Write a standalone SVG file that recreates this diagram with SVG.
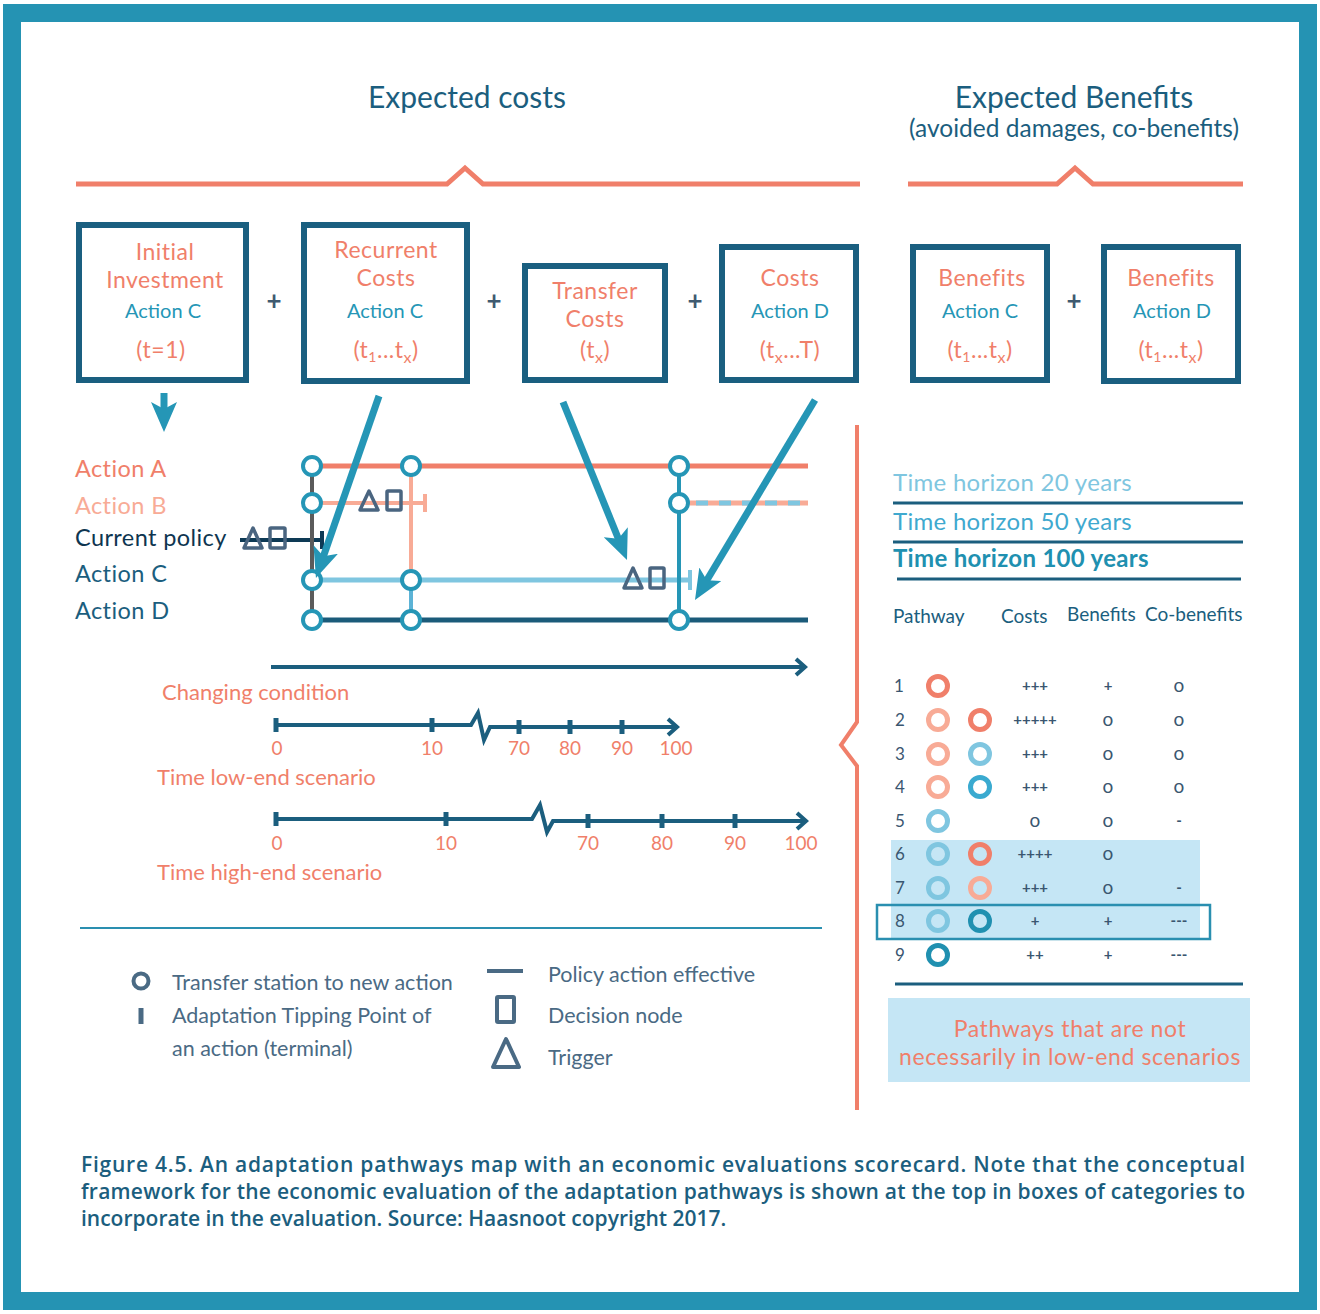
<svg xmlns="http://www.w3.org/2000/svg" width="1320" height="1314" viewBox="0 0 1320 1314">
<defs>
<style>
text{font-family:Lato,"Open Sans","Liberation Sans",sans-serif}
.ttl{font-size:30px;fill:#1b5e7e;text-anchor:middle}
.box{fill:#fff;stroke:#1a5f80;stroke-width:6}
.bt{font-size:23px;fill:#f07f6a;text-anchor:middle;letter-spacing:0.5px}
.ba{font-size:20px;fill:#2596b6;text-anchor:middle}
.plus{font-size:26px;font-weight:bold;fill:#3f5a70;text-anchor:middle}
.lbl{font-size:23.5px;letter-spacing:0.4px}
.st{fill:#fff;stroke:#2596b6;stroke-width:4}
.mk{fill:none;stroke:#4a6580;stroke-width:3.5;stroke-linejoin:round}
.big{stroke:#2596b6;stroke-width:7;fill:none}
.ax{stroke:#1b5e7e;stroke-width:4;fill:none}
.tk{stroke:#1b5e7e;stroke-width:5}
.num{font-size:19px;fill:#f07f6a;text-anchor:middle}
.sal{font-size:22px;fill:#f07f6a}
.leg{font-size:21.5px;fill:#4a6a84}
.th{font-size:24px;letter-spacing:0.3px}
.hd{font-size:19px;fill:#1b5e7e}
.rn{font-size:17px;fill:#3a5670}
.cell{font-size:15px;fill:#3a5670;text-anchor:middle;font-weight:bold}
.cell .oo{font-size:19px;font-weight:normal}
.ring{fill:none;stroke-width:5}
.note{font-size:23px;fill:#f07f6a;text-anchor:middle;letter-spacing:0.6px}
.cap{font-family:"Open Sans",Lato,sans-serif;font-size:21px;font-weight:600;fill:#1b5e7e}
</style>
<marker id="ah" viewBox="0 0 30 26" refX="10" refY="13" markerWidth="30" markerHeight="26" markerUnits="userSpaceOnUse" orient="auto">
<path d="M0,0 L30,13 L0,26 L7,13 z" fill="#2596b6"/>
</marker>
</defs>
<rect x="0" y="0" width="1320" height="1314" fill="#fff"/>
<rect x="12" y="13" width="1296" height="1288" fill="none" stroke="#2593b3" stroke-width="18"/>

<g id="headers">
<text class="ttl" x="467" y="108">Expected costs</text>
<text class="ttl" x="1074" y="108">Expected Benefits</text>
<text x="1074" y="137" style="font-size:24.5px;fill:#1b5e7e;text-anchor:middle">(avoided damages, co-benefits)</text>
<polyline points="76,184 447,184 465,168 483,184 860,184" fill="none" stroke="#f07f6a" stroke-width="5"/>
<polyline points="908,184 1057,184 1075,168 1093,184 1243,184" fill="none" stroke="#f07f6a" stroke-width="5"/>
</g>

<g id="box-initial">
<rect class="box" x="79" y="225" width="167" height="155"/>
<text class="bt" x="165" y="260">Initial</text>
<text class="bt" x="165" y="288">Investment</text>
<text class="ba" x="163" y="318">Action C</text>
<text class="bt" x="161" y="358">(t=1)</text>
</g>
<g id="box-recurrent">
<rect class="box" x="304" y="225" width="163" height="156"/>
<text class="bt" x="386" y="258">Recurrent</text>
<text class="bt" x="386" y="286">Costs</text>
<text class="ba" x="385" y="318">Action C</text>
<text class="bt" x="386" y="358">(t<tspan font-size="14" dy="4">1</tspan><tspan dy="-4">...t</tspan><tspan font-size="16" dy="5">x</tspan><tspan dy="-5">)</tspan></text>
</g>
<g id="box-transfer">
<rect class="box" x="525" y="266" width="140" height="114"/>
<text class="bt" x="595" y="299">Transfer</text>
<text class="bt" x="595" y="327">Costs</text>
<text class="bt" x="595" y="358">(t<tspan font-size="16" dy="5">x</tspan><tspan dy="-5">)</tspan></text>
</g>
<g id="box-costsD">
<rect class="box" x="722" y="247" width="134" height="133"/>
<text class="bt" x="790" y="286">Costs</text>
<text class="ba" x="790" y="318">Action D</text>
<text class="bt" x="790" y="358">(t<tspan font-size="16" dy="5">x</tspan><tspan dy="-5">...T)</tspan></text>
</g>
<g id="box-benefitsC">
<rect class="box" x="913" y="247" width="134" height="133"/>
<text class="bt" x="982" y="286">Benefits</text>
<text class="ba" x="980" y="318">Action C</text>
<text class="bt" x="980" y="358">(t<tspan font-size="14" dy="4">1</tspan><tspan dy="-4">...t</tspan><tspan font-size="16" dy="5">x</tspan><tspan dy="-5">)</tspan></text>
</g>
<g id="box-benefitsD">
<rect class="box" x="1104" y="247" width="134" height="134"/>
<text class="bt" x="1171" y="286">Benefits</text>
<text class="ba" x="1172" y="318">Action D</text>
<text class="bt" x="1171" y="358">(t<tspan font-size="14" dy="4">1</tspan><tspan dy="-4">...t</tspan><tspan font-size="16" dy="5">x</tspan><tspan dy="-5">)</tspan></text>
</g>
<g id="plus-signs">
<text class="plus" x="274" y="310">+</text>
<text class="plus" x="494" y="310">+</text>
<text class="plus" x="695" y="310">+</text>
<text class="plus" x="1074" y="310">+</text>
</g>

<g id="action-labels">
<text class="lbl" x="75" y="477" fill="#f07f6a">Action A</text>
<text class="lbl" x="75" y="514" fill="#f8ab96">Action B</text>
<text class="lbl" x="75" y="546" fill="#0e3550">Current policy</text>
<text class="lbl" x="75" y="582" fill="#1b5e7e">Action C</text>
<text class="lbl" x="75" y="619" fill="#1b5e7e">Action D</text>
</g>

<g id="pathway-lines">
<line x1="312" y1="466" x2="808" y2="466" stroke="#f07f6a" stroke-width="5"/>
<line x1="312" y1="503" x2="425" y2="503" stroke="#f8ab96" stroke-width="4"/>
<line x1="425" y1="494" x2="425" y2="512" stroke="#f8ab96" stroke-width="4"/>
<line x1="688" y1="503" x2="808" y2="503" stroke="#f8ab96" stroke-width="5"/>
<line x1="696" y1="503" x2="808" y2="503" stroke="#7fc6e0" stroke-width="5" stroke-dasharray="12 11"/>
<line x1="240" y1="540" x2="322" y2="540" stroke="#0e3a55" stroke-width="4"/>
<line x1="322" y1="531" x2="322" y2="549" stroke="#0e3a55" stroke-width="4"/>
<line x1="312" y1="580" x2="690" y2="580" stroke="#7fc6e0" stroke-width="5"/>
<line x1="690" y1="570" x2="690" y2="590" stroke="#7fc6e0" stroke-width="4"/>
<line x1="312" y1="620" x2="808" y2="620" stroke="#1b5b7a" stroke-width="5"/>
<line x1="312" y1="466" x2="312" y2="620" stroke="#5b5b5b" stroke-width="4"/>
<line x1="411" y1="466" x2="411" y2="580" stroke="#f8ab96" stroke-width="4"/>
<line x1="411" y1="580" x2="411" y2="620" stroke="#5cb3d6" stroke-width="4"/>
<line x1="679" y1="466" x2="679" y2="620" stroke="#2596b6" stroke-width="4"/>
</g>

<g id="stations">
<circle class="st" cx="312" cy="466" r="9"/>
<circle class="st" cx="411" cy="466" r="9"/>
<circle class="st" cx="312" cy="503" r="9"/>
<circle class="st" cx="312" cy="580" r="9"/>
<circle class="st" cx="411" cy="580" r="9"/>
<circle class="st" cx="312" cy="620" r="9"/>
<circle class="st" cx="411" cy="620" r="9"/>
<circle class="st" cx="679" cy="466" r="9"/>
<circle class="st" cx="679" cy="503" r="9"/>
<circle class="st" cx="679" cy="620" r="9"/>
</g>

<g id="triggers-decisions">
<polygon class="mk" points="369,491 378,510 360,510"/>
<rect class="mk" x="387" y="491" width="14" height="19" rx="1"/>
<polygon class="mk" points="253,528 262,548 244,548"/>
<rect class="mk" x="270" y="528" width="15" height="20" rx="1"/>
<polygon class="mk" points="633,568 642,588 624,588"/>
<rect class="mk" x="650" y="568" width="14" height="20" rx="1"/>
</g>

<g id="connectors">
<line class="big" x1="164" y1="393" x2="164" y2="412" marker-end="url(#ah)"/>
<line class="big" x1="379" y1="396" x2="322.5" y2="559" marker-end="url(#ah)"/>
<line class="big" x1="563" y1="402" x2="619.5" y2="541.5" marker-end="url(#ah)"/>
<line class="big" x1="815" y1="400" x2="705.3" y2="582.8" marker-end="url(#ah)"/>
</g>

<g id="changing-condition">
<line class="ax" x1="271" y1="667" x2="805" y2="667"/>
<polyline class="ax" points="796,659 805,667 796,675"/>
<text class="sal" x="162" y="700">Changing condition</text>
</g>

<g id="time-low">
<polyline class="ax" points="276,725 471,725 478,713 484,740 490,727 677,727"/>
<polyline class="ax" points="668,719 677,727 668,735"/>
<line class="tk" x1="276" y1="718" x2="276" y2="732"/>
<line class="tk" x1="432" y1="718" x2="432" y2="732"/>
<line class="tk" x1="519" y1="720" x2="519" y2="734"/>
<line class="tk" x1="570" y1="720" x2="570" y2="734"/>
<line class="tk" x1="622" y1="720" x2="622" y2="734"/>
<text class="num" x="277" y="755">0</text>
<text class="num" x="432" y="755">10</text>
<text class="num" x="519" y="755">70</text>
<text class="num" x="570" y="755">80</text>
<text class="num" x="622" y="755">90</text>
<text class="num" x="676" y="755">100</text>
<text class="sal" x="157" y="785">Time low-end scenario</text>
</g>

<g id="time-high">
<polyline class="ax" points="276,819 532,819 540,805 547,832 553,821 806,821"/>
<polyline class="ax" points="797,813 806,821 797,829"/>
<line class="tk" x1="276" y1="812" x2="276" y2="826"/>
<line class="tk" x1="446" y1="812" x2="446" y2="826"/>
<line class="tk" x1="588" y1="814" x2="588" y2="828"/>
<line class="tk" x1="662" y1="814" x2="662" y2="828"/>
<line class="tk" x1="735" y1="814" x2="735" y2="828"/>
<text class="num" x="277" y="850">0</text>
<text class="num" x="446" y="850">10</text>
<text class="num" x="588" y="850">70</text>
<text class="num" x="662" y="850">80</text>
<text class="num" x="735" y="850">90</text>
<text class="num" x="801" y="850">100</text>
<text class="sal" x="157" y="880">Time high-end scenario</text>
</g>

<line x1="80" y1="928" x2="822" y2="928" stroke="#2a8fb0" stroke-width="2"/>

<g id="legend">
<circle cx="141" cy="981" r="7.5" fill="none" stroke="#4a6a84" stroke-width="4"/>
<text class="leg" x="172" y="990">Transfer station to new action</text>
<line x1="141" y1="1008" x2="141" y2="1024" stroke="#4a6a84" stroke-width="5"/>
<text class="leg" x="172" y="1023">Adaptation Tipping Point of</text>
<text class="leg" x="172" y="1056">an action (terminal)</text>
<line x1="487" y1="971" x2="523" y2="971" stroke="#4a6a84" stroke-width="4"/>
<text class="leg" x="548" y="982">Policy action effective</text>
<rect x="497" y="997" width="17" height="25" rx="1" fill="none" stroke="#4a6a84" stroke-width="4"/>
<text class="leg" x="548" y="1023">Decision node</text>
<polygon points="506,1039 519,1067 493,1067" fill="none" stroke="#4a6a84" stroke-width="4" stroke-linejoin="round"/>
<text class="leg" x="548" y="1065">Trigger</text>
</g>

<polyline points="857,425 857,722 841,745 857,766 857,1110" fill="none" stroke="#f07f6a" stroke-width="4"/>

<g id="scorecard">
<text class="th" x="893" y="491" fill="#7fc6e0">Time horizon 20 years</text>
<line x1="893" y1="503" x2="1243" y2="503" stroke="#1b5e7e" stroke-width="3"/>
<text class="th" x="893" y="530" fill="#3fa9cf">Time horizon 50 years</text>
<line x1="893" y1="542" x2="1243" y2="542" stroke="#1b5e7e" stroke-width="3"/>
<text class="th" x="893" y="567" fill="#2090b0" font-weight="bold">Time horizon 100 years</text>
<line x1="897" y1="579" x2="1241" y2="579" stroke="#1b5e7e" stroke-width="3"/>
<text class="hd" x="893" y="623">Pathway</text>
<text class="hd" x="1001" y="623">Costs</text>
<text class="hd" x="1067" y="621">Benefits</text>
<text class="hd" x="1145" y="621">Co-benefits</text>

<rect x="891" y="840" width="309" height="98" fill="#c5e6f5"/>
<rect x="877" y="905" width="333" height="34" fill="none" stroke="#2a8fb0" stroke-width="2.5"/>

<g class="rn">
<text x="894" y="692">1</text>
<text x="895" y="726">2</text>
<text x="895" y="760">3</text>
<text x="895" y="793">4</text>
<text x="895" y="827">5</text>
<text x="895" y="860">6</text>
<text x="895" y="894">7</text>
<text x="895" y="927">8</text>
<text x="895" y="961">9</text>
</g>
<circle class="ring" cx="938" cy="686" r="9.5" stroke="#f07f6a"/>
<circle class="ring" cx="938" cy="720" r="9.5" stroke="#f8ab96"/>
<circle class="ring" cx="980" cy="720" r="9.5" stroke="#f07f6a"/>
<circle class="ring" cx="938" cy="754" r="9.5" stroke="#f8ab96"/>
<circle class="ring" cx="980" cy="754" r="9.5" stroke="#7fc6e0"/>
<circle class="ring" cx="938" cy="787" r="9.5" stroke="#f8ab96"/>
<circle class="ring" cx="980" cy="787" r="9.5" stroke="#3aaad0"/>
<circle class="ring" cx="938" cy="821" r="9.5" stroke="#7fc6e0"/>
<circle class="ring" cx="938" cy="854" r="9.5" stroke="#7fc6e0"/>
<circle class="ring" cx="980" cy="854" r="9.5" stroke="#f07f6a"/>
<circle class="ring" cx="938" cy="888" r="9.5" stroke="#7fc6e0"/>
<circle class="ring" cx="980" cy="888" r="9.5" stroke="#f8ab96"/>
<circle class="ring" cx="938" cy="921" r="9.5" stroke="#7fc6e0"/>
<circle class="ring" cx="980" cy="921" r="9.5" stroke="#2090b0"/>
<circle class="ring" cx="938" cy="955" r="9.5" stroke="#2090b0"/>

<g class="cell">
<text x="1035" y="691">+++</text><text x="1108" y="691">+</text><text class="oo" x="1179" y="692">o</text>
<text x="1035" y="725">+++++</text><text class="oo" x="1108" y="726">o</text><text class="oo" x="1179" y="726">o</text>
<text x="1035" y="759">+++</text><text class="oo" x="1108" y="760">o</text><text class="oo" x="1179" y="760">o</text>
<text x="1035" y="792">+++</text><text class="oo" x="1108" y="793">o</text><text class="oo" x="1179" y="793">o</text>
<text class="oo" x="1035" y="827">o</text><text class="oo" x="1108" y="827">o</text><text x="1179" y="826">-</text>
<text x="1035" y="859">++++</text><text class="oo" x="1108" y="860">o</text>
<text x="1035" y="893">+++</text><text class="oo" x="1108" y="894">o</text><text x="1179" y="893">-</text>
<text x="1035" y="926">+</text><text x="1108" y="926">+</text><text x="1179" y="926">---</text>
<text x="1035" y="960">++</text><text x="1108" y="960">+</text><text x="1179" y="960">---</text>
</g>
<line x1="895" y1="984" x2="1243" y2="984" stroke="#1b5e7e" stroke-width="3"/>
<rect x="888" y="998" width="362" height="84" fill="#c5e6f5"/>
<text class="note" x="1070" y="1037">Pathways that are not</text>
<text class="note" x="1070" y="1065">necessarily in low-end scenarios</text>
</g>

<g id="caption">
<text class="cap" x="81" y="1172" textLength="1164" lengthAdjust="spacing">Figure 4.5. An adaptation pathways map with an economic evaluations scorecard. Note that the conceptual</text>
<text class="cap" x="81" y="1199" textLength="1164" lengthAdjust="spacing">framework for the economic evaluation of the adaptation pathways is shown at the top in boxes of categories to</text>
<text class="cap" x="81" y="1226">incorporate in the evaluation. Source: Haasnoot copyright 2017.</text>
</g>
</svg>
